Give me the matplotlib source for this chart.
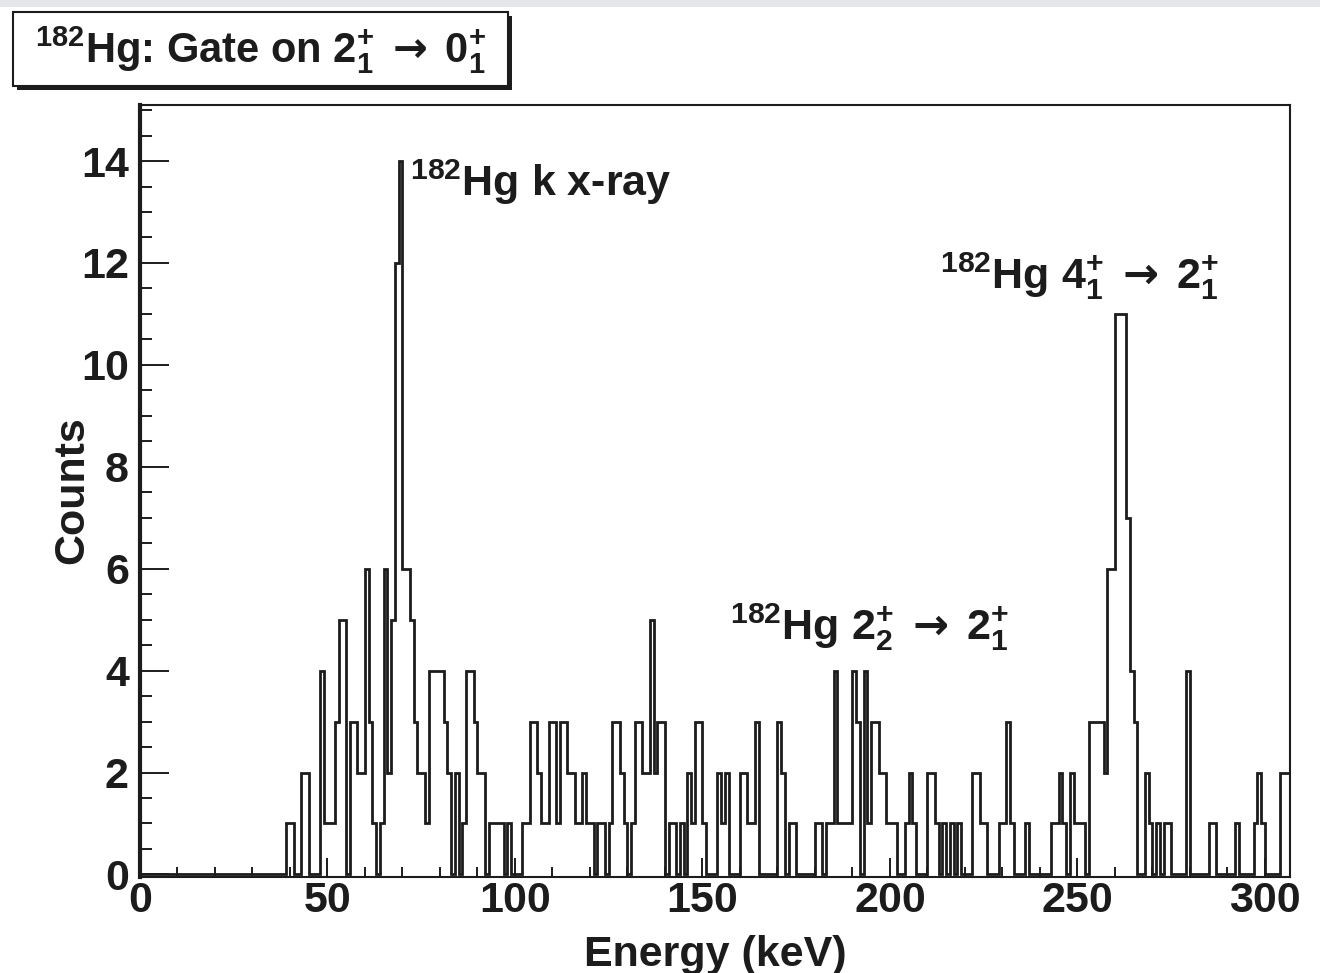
import matplotlib
matplotlib.use('Agg')
import matplotlib.pyplot as plt
import matplotlib.patches as patches
from matplotlib.ticker import MultipleLocator
import numpy as np

# gamma spectrum, 1 keV bins, only the non-empty bins are listed (bin low edge in keV)
bin_kev = [39, 40, 43, 44, 48, 49, 50, 51, 52, 53, 54, 56, 57, 58, 59, 60, 61, 62, 64,
           65, 66, 67, 68, 69, 70, 71, 72, 73, 74, 75, 76, 77, 78, 79, 80, 81, 82, 84, 86,
           87, 88, 89, 90, 91, 93, 94, 95, 96, 98, 102, 103, 104, 105, 106, 107, 108, 109,
           110, 111, 112, 113, 114, 115, 116, 117, 118, 119, 120, 122, 123, 125, 126, 127,
           128, 129, 131, 132, 133, 134, 135, 136, 137, 138, 139, 141, 142, 144, 146, 147,
           148, 149, 150, 154, 155, 156, 160, 161, 162, 163, 164, 170, 171, 173, 174, 180,
           181, 183, 184, 185, 186, 187, 188, 189, 190, 191, 193, 194, 195, 196, 197, 198,
           199, 200, 201, 204, 205, 206, 210, 211, 212, 214, 216, 218, 222, 223, 224, 225,
           229, 230, 231, 232, 236, 243, 244, 245, 246, 248, 249, 250, 251, 253, 254, 255,
           256, 257, 258, 259, 260, 261, 262, 263, 264, 265, 268, 269, 271, 273, 274, 279,
           285, 286, 292, 297, 298, 299, 304, 305, 306]
bin_counts = [1, 1, 2, 2, 4, 1, 1, 1, 3, 5, 5, 3, 3, 2, 2, 6, 3, 1, 1,
              6, 2, 5, 12, 14, 6, 6, 5, 3, 2, 2, 1, 4, 4, 4, 4, 3, 2, 2, 1,
              4, 4, 3, 2, 2, 1, 1, 1, 1, 1, 1, 1, 3, 3, 2, 1, 1, 3,
              3, 1, 3, 3, 2, 2, 1, 1, 2, 1, 1, 1, 1, 1, 3, 3,
              2, 1, 1, 3, 3, 2, 2, 5, 2, 3, 3, 1, 1, 1, 2, 1,
              3, 3, 1, 2, 1, 2, 2, 2, 1, 1, 3, 3, 2, 1, 1, 1,
              1, 1, 1, 4, 1, 1, 1, 1, 4, 3, 4, 1, 3, 3, 2, 2,
              1, 1, 1, 1, 2, 1, 2, 2, 1, 1, 1, 1, 2, 2, 1, 1,
              1, 1, 3, 1, 1, 1, 1, 2, 1, 2, 1, 1, 1, 3, 3, 3,
              3, 2, 6, 6, 11, 11, 11, 7, 4, 3, 2, 1, 1, 1, 1, 4,
              1, 1, 1, 1, 2, 1, 2, 2, 2]
n_bins = 307

# labels
arrow = r"\;\mathsf{\rightarrow}\;"
title_text = r"$^{182}$Hg: Gate on $2^{+}_{1}" + arrow + r"0^{+}_{1}$"
peak_labels = [r"$^{182}$Hg k x-ray",
               r"$^{182}$Hg $4^{+}_{1}" + arrow + r"2^{+}_{1}$",
               r"$^{182}$Hg $2^{+}_{2}" + arrow + r"2^{+}_{1}$"]
peak_label_pos = [(72.0, 13.32), (213.3, 11.49), (157.3, 4.62)]

plt.rcParams['font.family'] = ['Liberation Sans', 'DejaVu Sans']
plt.rcParams['font.weight'] = 'bold'
plt.rcParams['mathtext.fontset'] = 'custom'
plt.rcParams['mathtext.rm'] = 'Liberation Sans:bold'
plt.rcParams['mathtext.it'] = 'Liberation Sans:bold'
plt.rcParams['mathtext.bf'] = 'Liberation Sans:bold'
plt.rcParams['mathtext.sf'] = 'DejaVu Sans'
plt.rcParams['mathtext.default'] = 'rm'

ink = '#1c1c1c'
fs = 31

counts = np.zeros(n_bins)
counts[bin_kev] = bin_counts
edges = np.arange(n_bins + 1)

W, H = 1320, 973
fig = plt.figure(figsize=(W / 100, H / 100), dpi=100)
fig.patch.set_facecolor('white')
# light band along the top edge of the screenshot
fig.patches.append(patches.Rectangle((0, 1 - 7 / H), 1, 7 / H, transform=fig.transFigure,
                                     facecolor='#e4e6ea', edgecolor='none'))

ax = fig.add_axes([140 / W, 1 - 877 / H, 1150 / W, 772 / H])
ax.stairs(counts, edges, color=ink, lw=2.0)

ax.set_xlim(0, 306.7)
ax.set_ylim(-0.05, 15.1)
ax.xaxis.set_major_locator(MultipleLocator(50))
ax.xaxis.set_minor_locator(MultipleLocator(10))
ax.yaxis.set_major_locator(MultipleLocator(2))
ax.yaxis.set_minor_locator(MultipleLocator(0.5))
ax.tick_params(axis='both', which='both', direction='in', colors=ink, width=1.4,
               labelsize=fs, top=False, right=False)
ax.tick_params(axis='x', which='major', length=14, pad=3)
ax.tick_params(axis='x', which='minor', length=7)
ax.tick_params(axis='y', which='major', length=21, pad=8)
ax.tick_params(axis='y', which='minor', length=8.5)
for lab in ax.get_xticklabels() + ax.get_yticklabels():
    lab.set_fontweight('bold')

for side in ['top', 'right', 'bottom']:
    ax.spines[side].set_linewidth(1.5)
    ax.spines[side].set_color(ink)
ax.spines['left'].set_linewidth(3)
ax.spines['left'].set_color(ink)

fig.text(72 / W, 1 - 490 / H, 'Counts', rotation=90, ha='center', va='center',
         fontsize=fs, fontweight='bold', color=ink)
fig.text(715 / W, 1 - 966 / H, 'Energy (keV)', ha='center', va='baseline',
         fontsize=fs, fontweight='bold', color=ink)

for text, (x, y) in zip(peak_labels, peak_label_pos):
    ax.text(x, y, text, ha='left', va='baseline', fontsize=fs, fontweight='bold', color=ink)

# title pave with shadow
bx, by, bw, bh = 13 / W, 1 - 86 / H, 495 / W, 74 / H
fig.patches.append(patches.Rectangle((bx + 4 / W, by - 4 / H), bw, bh, transform=fig.transFigure,
                                     facecolor=ink, edgecolor='none'))
fig.patches.append(patches.Rectangle((bx, by), bw, bh, transform=fig.transFigure,
                                     facecolor='white', edgecolor=ink, lw=1.5))
fig.text(35 / W, 1 - 62 / H, title_text, ha='left', va='baseline', fontsize=30,
         fontweight='bold', color=ink)

fig.savefig('out.png', dpi=100)
